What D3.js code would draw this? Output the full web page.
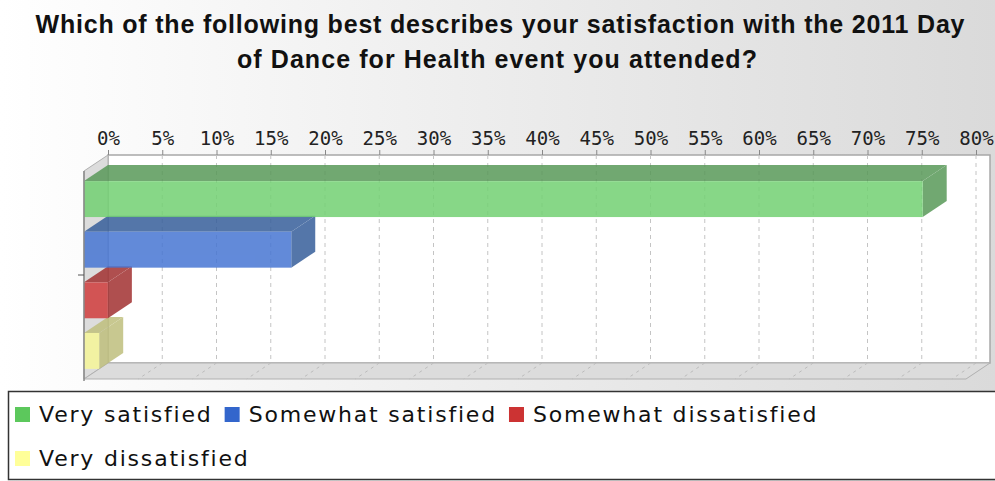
<!DOCTYPE html>
<html>
<head>
<meta charset="utf-8">
<script src="https://cdn.jsdelivr.net/npm/d3@7"></script>
<style>
body { margin: 0; background: #fff; }
svg { display: block; }
</style>
</head>
<body>
<svg id="chart"></svg>
<script>
var width = 995;
var height = 481;

var categories = ["Very satisfied", "Somewhat satisfied", "Somewhat dissatisfied", "Very dissatisfied"];
var percents = [77.3, 19.1, 2.2, 1.4];
var ticks = [0, 5, 10, 15, 20, 25, 30, 35, 40, 45, 50, 55, 60, 65, 70, 75, 80];
var titleLines = ["Which of the following best describes your satisfaction with the 2011 Day",
	"of Dance for Health event you attended?"];

// colours: front face, top/side face, legend swatch
var frontColors = ["#73d173", "#4776d3", "#d13d3d", "#f7f799"];
var sideColors = ["#599959", "#375f9b", "#a23131", "#bfbf7d"];
var swatchColors = ["#5cc85c", "#3366cc", "#cc3333", "#ffff99"];

var dx = 24, dy = 16;
var backTop = 155, backBottom = 363, backRight = 990;

var x = d3.scaleLinear().domain([0, 80]).range([108, 976]);
var y = d3.scaleBand()
	.domain(categories)
	.range([backTop + dy, backBottom + dy])
	.paddingInner(0.29)
	.paddingOuter(0.2);

var svg = d3.select("#chart")
	.attr("width", width)
	.attr("height", height);

var defs = svg.append("defs");
var grad = defs.append("linearGradient")
	.attr("id", "bg")
	.attr("x1", "0%").attr("x2", "100%")
	.attr("y1", "0%").attr("y2", "0%");
grad.append("stop").attr("offset", "0%").attr("stop-color", "#ffffff");
grad.append("stop").attr("offset", "100%").attr("stop-color", "#dadada");

svg.append("rect")
	.attr("width", width)
	.attr("height", height)
	.attr("fill", "url(#bg)");

// title
svg.selectAll("text.title")
	.data(titleLines)
	.enter()
	.append("text")
	.attr("class", "title")
	.attr("x", function (d, i) { return i == 0 ? 500 : 497; })
	.attr("y", function (d, i) { return 33 + i * 35; })
	.attr("text-anchor", "middle")
	.attr("textLength", function (d, i) { return i == 0 ? 929 : 520; })
	.attr("lengthAdjust", "spacing")
	.style("font-family", "'Liberation Sans', Arial, sans-serif")
	.style("font-weight", "bold")
	.style("font-size", "25px")
	.style("fill", "#111")
	.text(function (d) { return d; });

// back plane, wall and floor
svg.append("rect")
	.attr("x", x(0))
	.attr("y", backTop)
	.attr("width", backRight - x(0))
	.attr("height", backBottom - backTop)
	.attr("fill", "#fff")
	.attr("stroke", "#a8a8a8")
	.attr("stroke-width", 1.5);

svg.append("polygon")
	.attr("points", [[x(0) - dx, backTop + dy], [x(0), backTop], [x(0), backBottom], [x(0) - dx, backBottom + dy]].join(" "))
	.attr("fill", "#dcdcdc")
	.attr("stroke", "#b0b0b0");

svg.append("polygon")
	.attr("points", [[x(0), backBottom], [backRight, backBottom], [backRight - dx, backBottom + dy], [x(0) - dx, backBottom + dy]].join(" "))
	.attr("fill", "#dcdcdc")
	.attr("stroke", "#b0b0b0");

// grid lines
svg.selectAll("line.grid")
	.data(ticks.slice(1))
	.enter()
	.append("line")
	.attr("class", "grid")
	.attr("x1", function (d) { return x(d); })
	.attr("x2", function (d) { return x(d); })
	.attr("y1", backTop)
	.attr("y2", backBottom)
	.attr("stroke", "#c4c4c4")
	.attr("stroke-dasharray", "4,4");

svg.selectAll("line.floorgrid")
	.data(ticks.slice(1))
	.enter()
	.append("line")
	.attr("class", "floorgrid")
	.attr("x1", function (d) { return x(d); })
	.attr("x2", function (d) { return x(d) - dx; })
	.attr("y1", backBottom)
	.attr("y2", backBottom + dy)
	.attr("stroke", "#bcbcbc")
	.attr("stroke-dasharray", "3,4");

// top axis
var axis = svg.append("g")
	.attr("transform", "translate(0," + backTop + ")")
	.call(d3.axisTop(x)
		.tickValues(ticks)
		.tickSize(5)
		.tickPadding(5)
		.tickFormat(function (d) { return d + "%"; }));
axis.select(".domain").remove();
axis.selectAll(".tick line").attr("stroke", "#888");
axis.selectAll(".tick text")
	.style("font-family", "'DejaVu Sans Mono', monospace")
	.style("font-size", "19px")
	.style("fill", "#222");

// bars, drawn bottom first so upper fronts cover lower tops
var bars = svg.append("g");
d3.range(categories.length).reverse().forEach(function (i) {
	var y0 = y(categories[i]);
	var h = y.bandwidth();
	var x0 = x(0) - dx;
	var x1 = x(percents[i]) - dx;
	var g = bars.append("g").style("opacity", 0.85);

	g.append("polygon")
		.attr("points", [[x0, y0], [x1, y0], [x1 + dx, y0 - dy], [x0 + dx, y0 - dy]].join(" "))
		.attr("fill", sideColors[i]);

	g.append("polygon")
		.attr("points", [[x1, y0], [x1 + dx, y0 - dy], [x1 + dx, y0 + h - dy], [x1, y0 + h]].join(" "))
		.attr("fill", sideColors[i]);

	g.append("rect")
		.attr("x", x0)
		.attr("y", y0)
		.attr("width", x1 - x0)
		.attr("height", h)
		.attr("fill", frontColors[i]);
});

// left axis line and its single tick
svg.append("line")
	.attr("x1", x(0) - dx).attr("x2", x(0) - dx)
	.attr("y1", backTop + dy).attr("y2", backBottom + dy + 2)
	.attr("stroke", "#888")
	.attr("stroke-width", 1.5);

svg.append("line")
	.attr("x1", x(0) - dx - 6).attr("x2", x(0) - dx)
	.attr("y1", (backTop + backBottom) / 2 + dy).attr("y2", (backTop + backBottom) / 2 + dy)
	.attr("stroke", "#555");

// legend
svg.append("rect")
	.attr("x", 8.5)
	.attr("y", 391.5)
	.attr("width", 1000)
	.attr("height", 88)
	.attr("fill", "#fff")
	.attr("stroke", "#333")
	.attr("stroke-width", 1.5);

var rows = [[0, 1, 2], [3]];
var rowBase = [422, 466];
rows.forEach(function (row, r) {
	var lx = 15;
	row.forEach(function (i) {
		svg.append("rect")
			.attr("x", lx)
			.attr("y", rowBase[r] - 15)
			.attr("width", 15)
			.attr("height", 15)
			.attr("fill", swatchColors[i]);
		var t = svg.append("text")
			.attr("x", lx + 24)
			.attr("y", rowBase[r])
			.style("font-family", "'DejaVu Sans', Verdana, sans-serif")
			.style("font-size", "22px")
			.style("letter-spacing", "1.8px")
			.style("fill", "#111")
			.text(categories[i]);
		lx = lx + 24 + t.node().getComputedTextLength() + 12;
	});
});
</script>
</body>
</html>
